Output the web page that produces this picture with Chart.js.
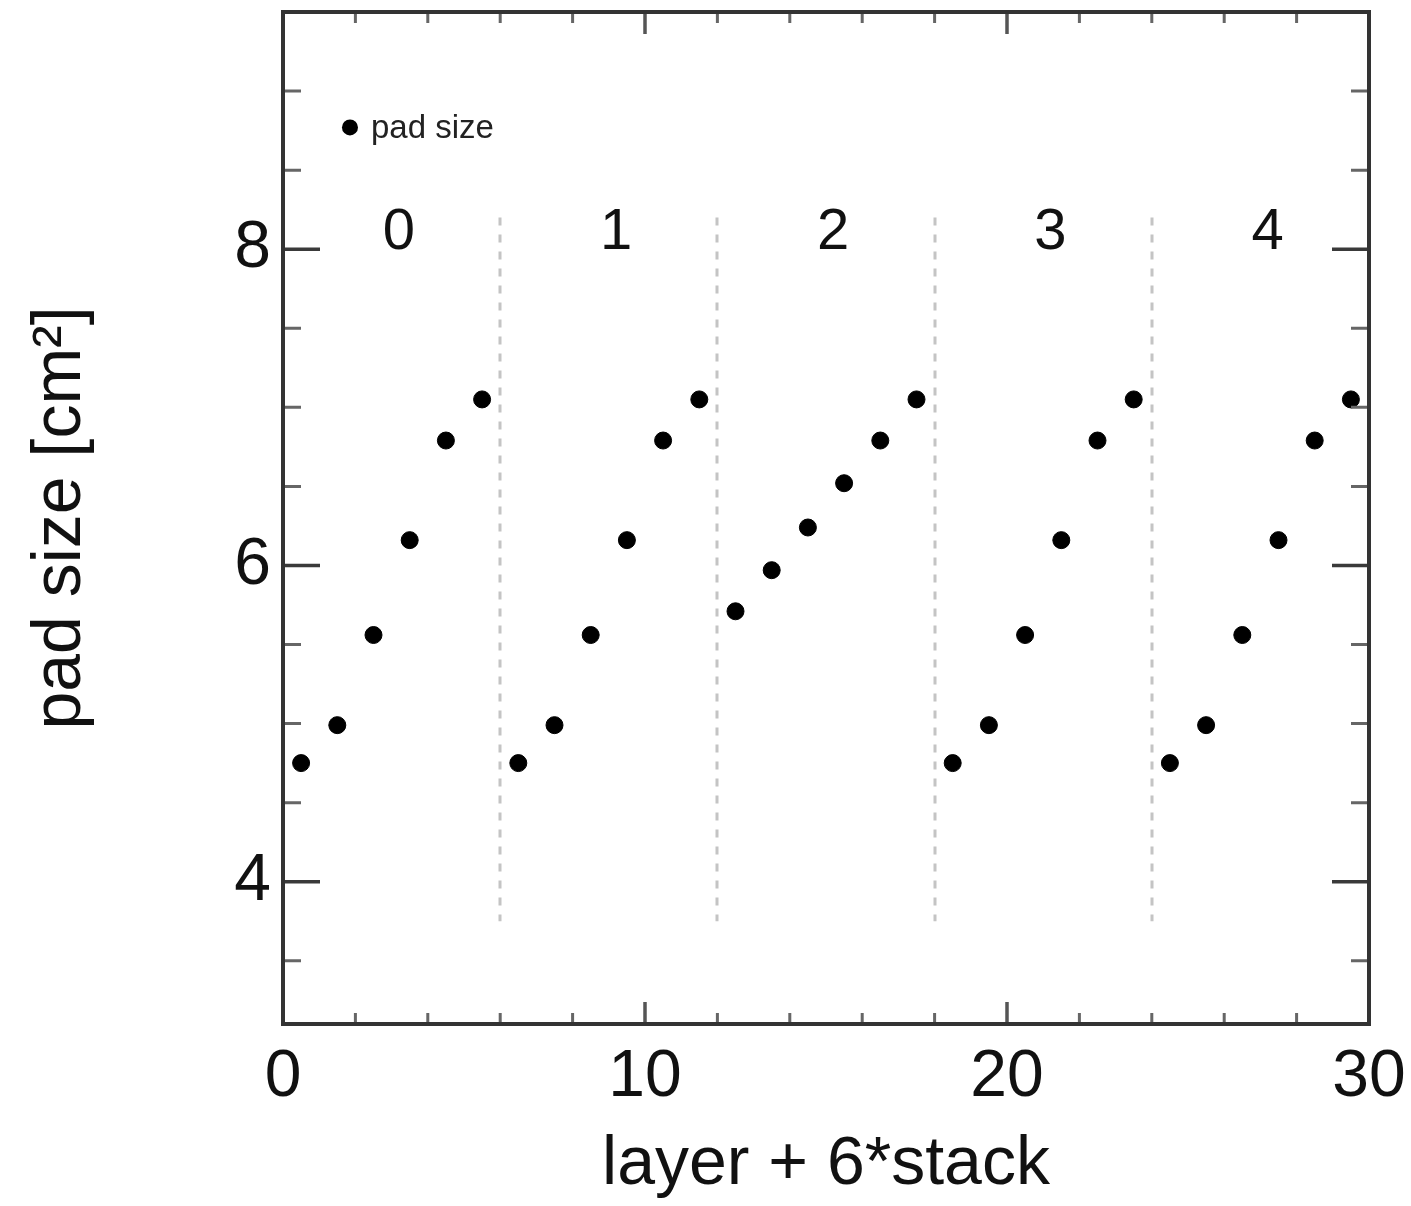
<!DOCTYPE html>
<html>
<head>
<meta charset="utf-8">
<script src="https://cdn.jsdelivr.net/npm/chart.js@4"></script>
<style>
  html, body { margin: 0; padding: 0; background: #fff; }
  #wrap { width: 1411px; height: 1206px; }
</style>
</head>
<body>
<div id="wrap"><canvas id="padChart" width="1411" height="1206"></canvas></div>
<script>
// ---- data ----
var layerX = [0.5, 1.5, 2.5, 3.5, 4.5, 5.5, 6.5, 7.5, 8.5, 9.5, 10.5, 11.5, 12.5, 13.5, 14.5,
              15.5, 16.5, 17.5, 18.5, 19.5, 20.5, 21.5, 22.5, 23.5, 24.5, 25.5, 26.5, 27.5, 28.5, 29.5];
var padSize = [4.75, 4.99, 5.56, 6.16, 6.79, 7.05,
               4.75, 4.99, 5.56, 6.16, 6.79, 7.05,
               5.71, 5.97, 6.24, 6.52, 6.79, 7.05,
               4.75, 4.99, 5.56, 6.16, 6.79, 7.05,
               4.75, 4.99, 5.56, 6.16, 6.79, 7.05];
var stackBounds = [6, 12, 18, 24];
var stackLabels = ['0', '1', '2', '3', '4'];
var stackLabelX = [3.2, 9.2, 15.2, 21.2, 27.2];
var xTicks = [0, 10, 20, 30];
var yTicks = [4, 6, 8];
var xMinor = [2, 4, 6, 8, 12, 14, 16, 18, 22, 24, 26, 28];
var yMinor = [3.5, 4.5, 5, 5.5, 6.5, 7, 7.5, 8.5, 9];

var FONT = "'Liberation Sans', Helvetica, Arial, sans-serif";

// frame, inside ticks, stack separators, stack numbers and legend
var decorPlugin = {
    id: 'decor',
    beforeDatasetsDraw: function (chart) {
        var ctx = chart.ctx;
        var xs = chart.scales.x, ys = chart.scales.y;

        // dotted separators between stacks
        ctx.save();
        ctx.strokeStyle = '#c4c4c4';
        ctx.lineWidth = 3;
        ctx.setLineDash([8, 9]);
        stackBounds.forEach(function (b) {
            var px = Math.round(xs.getPixelForValue(b));
            ctx.beginPath();
            ctx.moveTo(px, ys.getPixelForValue(8.2));
            ctx.lineTo(px, ys.getPixelForValue(3.75));
            ctx.stroke();
        });
        ctx.restore();

        // stack numbers
        ctx.save();
        ctx.fillStyle = '#111';
        ctx.font = '58px ' + FONT;
        ctx.textAlign = 'center';
        ctx.textBaseline = 'middle';
        stackLabels.forEach(function (t, i) {
            ctx.fillText(t, xs.getPixelForValue(stackLabelX[i]), ys.getPixelForValue(8.1));
        });
        ctx.restore();

        // legend
        ctx.save();
        var lx = xs.getPixelForValue(1.85), ly = ys.getPixelForValue(8.77);
        ctx.fillStyle = '#000';
        ctx.beginPath();
        ctx.arc(lx, ly, 8, 0, Math.PI * 2);
        ctx.fill();
        ctx.fillStyle = '#222';
        ctx.font = '33px ' + FONT;
        ctx.textAlign = 'left';
        ctx.textBaseline = 'middle';
        ctx.fillText(chart.data.datasets[0].label, lx + 21, ly + 1);
        ctx.restore();
    },
    afterDraw: function (chart) {
        var ctx = chart.ctx;
        var xs = chart.scales.x, ys = chart.scales.y;
        var a = chart.chartArea;
        ctx.save();
        ctx.lineCap = 'butt';

        // ticks on all four sides, pointing inwards
        function tick(px, len, horizontal, color, w) {
            ctx.strokeStyle = color;
            ctx.lineWidth = w;
            ctx.beginPath();
            if (horizontal) {
                ctx.moveTo(a.left, px); ctx.lineTo(a.left + len, px);
                ctx.moveTo(a.right, px); ctx.lineTo(a.right - len, px);
            } else {
                ctx.moveTo(px, a.bottom); ctx.lineTo(px, a.bottom - len);
                ctx.moveTo(px, a.top); ctx.lineTo(px, a.top + len);
            }
            ctx.stroke();
        }
        yTicks.forEach(function (v) { tick(ys.getPixelForValue(v), 37, true, '#3a3a3a', 3.5); });
        yMinor.forEach(function (v) { tick(ys.getPixelForValue(v), 18, true, '#666', 3); });
        xTicks.forEach(function (v) { tick(xs.getPixelForValue(v), 22, false, '#555', 3.5); });
        xMinor.forEach(function (v) { tick(xs.getPixelForValue(v), 11, false, '#666', 3); });

        // frame
        ctx.strokeStyle = '#333';
        ctx.lineWidth = 4;
        ctx.strokeRect(a.left, a.top, a.right - a.left, a.bottom - a.top);
        ctx.restore();
    }
};

new Chart(document.getElementById('padChart'), {
    type: 'scatter',
    data: {
        datasets: [{
            label: 'pad size',
            data: layerX.map(function (x, i) { return { x: x, y: padSize[i] }; }),
            backgroundColor: '#000',
            borderColor: '#000',
            pointRadius: 8.5,
            pointHoverRadius: 8.5
        }]
    },
    options: {
        responsive: false,
        animation: false,
        devicePixelRatio: 1,
        layout: { padding: { top: 12, right: 42, left: 0, bottom: 0 } },
        plugins: {
            legend: { display: false },
            tooltip: { enabled: false }
        },
        scales: {
            x: {
                type: 'linear',
                min: 0,
                max: 30,
                grid: { display: false, drawTicks: false },
                border: { display: false },
                afterBuildTicks: function (s) { s.ticks = xTicks.map(function (v) { return { value: v }; }); },
                afterFit: function (s) {
                    s.height = 182;
                    s.paddingLeft = 0; s.paddingRight = 0;
                },
                ticks: {
                    color: '#111',
                    padding: 14,
                    maxRotation: 0,
                    font: { family: FONT, size: 66 }
                },
                title: {
                    display: true,
                    text: 'layer + 6*stack',
                    color: '#111',
                    font: { family: FONT, size: 68 },
                    padding: { top: 0, bottom: 0 }
                }
            },
            y: {
                type: 'linear',
                min: 3.1,
                max: 9.5,
                grid: { display: false, drawTicks: false },
                border: { display: false },
                afterBuildTicks: function (s) { s.ticks = yTicks.map(function (v) { return { value: v }; }); },
                afterFit: function (s) {
                    s.width = 283;
                    s.paddingTop = 0; s.paddingBottom = 0;
                },
                ticks: {
                    color: '#111',
                    padding: 12,
                    font: { family: FONT, size: 66 }
                },
                title: {
                    display: true,
                    text: 'pad size [cm²]',
                    color: '#111',
                    font: { family: FONT, size: 68 },
                    padding: { top: 20, bottom: 0 }
                }
            }
        }
    },
    plugins: [decorPlugin]
});
</script>
</body>
</html>
